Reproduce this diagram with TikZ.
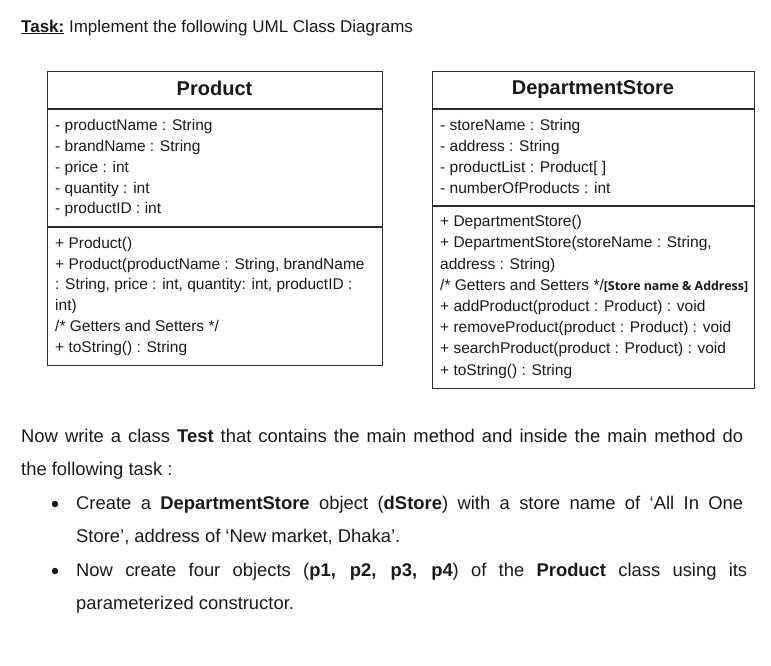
\documentclass[tikz,border=0pt]{standalone}
\usepackage{fontspec}
\setmainfont{Liberation Sans}
\newfontfamily\notefont{Open Sans}
\usepackage{xcolor}
\usetikzlibrary{positioning}
\definecolor{boxgray}{RGB}{45,45,45}
\definecolor{inkblack}{RGB}{25,25,25}

\begin{document}
\begin{tikzpicture}[x=1pt, y=-1pt,
    umlbox/.style={draw=boxgray, line width=1.3pt, inner sep=0pt, anchor=north west},
    divider/.style={draw=boxgray, line width=1.3pt},
    uml/.style={anchor=base west, inner sep=0pt, text=inkblack, font=\fontsize{15.5}{19}\selectfont},
    umlhead/.style={anchor=base, inner sep=0pt, text=inkblack, font=\fontsize{20}{24}\selectfont\bfseries},
    body/.style={anchor=base west, inner sep=0pt, text=inkblack, font=\fontsize{18.4}{22}\selectfont},
    bulletmark/.style={circle, fill=inkblack, inner sep=0pt, minimum size=6.5pt},
]
    \useasboundingbox (0,0) rectangle (771,665);
    % Title
    \node[anchor=base west, inner sep=0pt, text=inkblack, font=\fontsize{17}{20}\selectfont] (title) at (21,32)
        {\underline{\textbf{Task:}} Implement the following UML Class Diagrams};
    % Product class
    \node[umlbox, minimum width=335pt, minimum height=294pt] (prod) at (47,71) {};
    \draw[divider] (47,109) -- (382,109);
    \draw[divider] (47,227) -- (382,227);
    \node[umlhead] (prodhead) at (214.5,95) {Product};
    \foreach \txt [count=\i] in {{- productName : String}, {- brandName : String}, {- price : int},
        {- quantity : int}, {- productID : int}} {
        \node[uml] (pattr\i) at (55,{130.7+20.8*(\i-1)}) {\txt};
    }
    \foreach \txt [count=\i] in {{+ Product()}, {+ Product(productName : String, brandName},
        {: String, price : int, quantity: int, productID :}, {int)},
        {/* Getters and Setters */}, {+ toString() : String}} {
        \node[uml] (pmeth\i) at (55,{248.3+20.8*(\i-1)}) {\txt};
    }
    % DepartmentStore class
    \node[umlbox, minimum width=322pt, minimum height=317pt] (store) at (432,71) {};
    \draw[divider] (432,109) -- (754,109);
    \draw[divider] (432,206) -- (754,206);
    \node[umlhead] (storehead) at (593,94) {DepartmentStore};
    \foreach \txt [count=\i] in {{- storeName : String}, {- address : String},
        {- productList : Product[ ]}, {- numberOfProducts : int}} {
        \node[uml] (sattr\i) at (440,{130.7+20.8*(\i-1)}) {\txt};
    }
    \foreach \txt [count=\i] in {{+ DepartmentStore()}, {+ DepartmentStore(storeName : String,},
        {address : String)},
        {/* Getters and Setters */{\notefont\bfseries\fontsize{12.4}{14}\selectfont[Store name \& Address]}},
        {+ addProduct(product : Product) : void}, {+ removeProduct(product : Product) : void},
        {+ searchProduct(product : Product) : void}, {+ toString() : String}} {
        \node[uml] (smeth\i) at (440,{226.7+21.2*(\i-1)}) {\txt};
    }
    % Task text
    \node[body] (line1) at (21,442) {\makebox[722pt][s]{Now write a class \textbf{Test} that contains the main method and inside the main method do}};
    \node[body] (line2) at (21,475.5) {the following task :};
    \node[bulletmark] (bul1) at (55,504) {};
    \node[body] (line3) at (76,509) {\makebox[667pt][s]{Create a \textbf{DepartmentStore} object (\textbf{dStore}) with a store name of ‘All In One}};
    \node[body] (line4) at (76,542.5) {Store’, address of ‘New market, Dhaka’.};
    \node[bulletmark] (bul2) at (55,571) {};
    \node[body] (line5) at (76,576) {\makebox[671pt][s]{Now create four objects (\textbf{p1, p2, p3, p4}) of the \textbf{Product} class using its}};
    \node[body] (line6) at (76,609.5) {parameterized constructor.};
\end{tikzpicture}
\end{document}
